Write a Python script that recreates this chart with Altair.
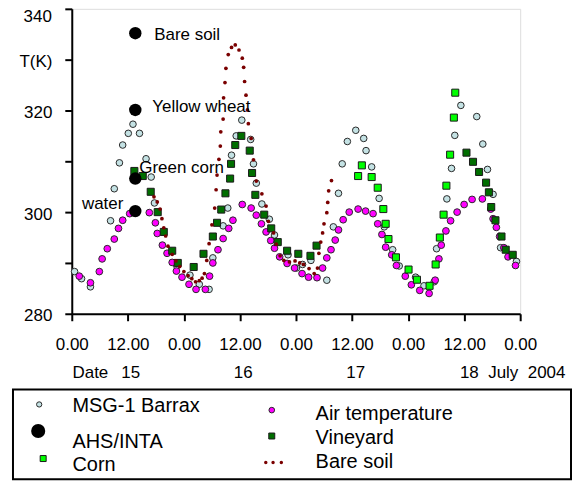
import altair as alt
import pandas as pd

# ---------------- data (hours since 15 July 00:00, temperature in K) ----------------
msg_hour = [0.6, 2.1, 4.0, 8.3, 9.1, 10.2, 10.9, 12.1, 13.1, 14.5, 15.9, 17.0, 17.7,
            22.5, 25.3, 27.3, 29.4, 30.2, 32.4, 33.4, 34.2, 35.2, 36.4, 38.3, 38.9,
            39.5, 40.7, 42.3, 43.4, 46.3, 48.1, 49.4, 51.2, 54.6, 56.0, 57.1, 57.9,
            59.0, 60.8, 62.5, 63.0, 64.2, 65.8, 66.9, 68.7, 70.1, 73.6, 75.4, 77.6,
            78.1, 80.3, 81.3, 82.0, 83.3, 86.7, 88.0, 89.0, 90.2, 91.8, 95.2]
msg_temp = [288.3, 286.9, 285.3, 298.3, 304.6, 309.7, 313.2, 315.5, 317.3, 315.5, 310.5, 306.9, 301.8,
            289.4, 287.6, 285.8, 284.8, 291.0, 297.3, 300.8, 311.2, 315.0, 318.1, 314.3, 309.5,
            305.7, 301.6, 298.6, 295.5, 291.6, 289.0, 289.7, 290.5, 286.6, 297.1, 303.7, 309.5,
            313.9, 316.1, 314.5, 312.1, 308.9, 302.7, 297.1, 292.6, 289.4, 287.2, 285.5, 286.3,
            292.8, 302.6, 308.6, 315.1, 321.0, 318.8, 313.4, 308.4, 303.5, 293.0, 290.3]

air_hour = [1.6, 4.0, 5.9, 6.5, 7.6, 9.1, 10.0, 10.9, 12.4, 13.8, 16.6, 17.9, 18.3, 19.4,
            20.4, 21.5, 22.4, 23.6, 25.1, 26.6, 28.6, 29.5, 30.2, 31.3, 32.4, 33.6, 34.5,
            36.5, 38.4, 39.5, 40.6, 41.6, 42.6, 43.4, 44.5, 46.1, 47.7, 49.3, 50.7, 52.5,
            53.7, 54.6, 55.5, 56.4, 57.1, 58.1, 59.4, 61.3, 62.9, 64.5, 65.5, 66.4, 67.2,
            68.5, 69.5, 71.4, 72.7, 74.5, 76.5, 77.8, 78.6, 79.1, 80.1, 81.1, 82.5, 84.0,
            85.7, 87.9, 89.7, 90.2, 90.9, 91.6, 92.5, 93.4, 95.0]
air_temp = [287.4, 286.1, 288.3, 290.8, 292.8, 294.7, 296.8, 298.4, 299.7, 300.0, 299.9, 297.9, 295.8, 293.5,
            291.9, 290.1, 288.4, 287.2, 285.8, 284.8, 284.8, 287.4, 290.0, 292.6, 294.8, 296.8, 298.4,
            301.5, 300.8, 299.4, 297.7, 296.1, 294.4, 292.9, 291.2, 289.9, 289.0, 287.9, 287.2, 287.1,
            289.0, 291.0, 292.6, 294.5, 296.5, 298.5, 300.0, 300.6, 300.2, 299.7, 297.7, 295.6, 293.1,
            291.6, 289.5, 287.4, 285.7, 284.6, 284.0, 286.6, 290.8, 293.5, 296.3, 298.3, 300.0, 301.5,
            302.5, 302.6, 300.6, 298.7, 297.0, 295.2, 293.0, 291.2, 289.5]

corn_hour = [61.3, 62.1, 64.2, 65.5, 66.7, 67.2, 67.8, 69.4, 72.1, 73.9, 76.6, 77.9, 78.8,
             79.6, 80.2, 81.0, 81.8, 82.1]
corn_temp = [307.1, 309.2, 306.9, 304.8, 300.6, 297.7, 294.7, 291.1, 288.7, 286.7, 285.5, 289.7, 295.0,
             299.5, 305.2, 311.3, 318.6, 323.5]

vine_hour = [13.4, 15.2, 16.9, 18.4, 19.7, 21.5, 22.7, 26.1, 28.2, 30.2, 31.1, 32.0, 32.9,
             33.9, 34.1, 35.0, 36.3, 38.1, 38.6, 39.3, 41.2, 42.7, 44.1, 46.1, 48.5, 51.1,
             52.4, 84.5, 85.9, 87.2, 88.7, 89.3, 89.8, 90.7, 92.0, 92.9, 94.4]
vine_temp = [308.1, 307.1, 304.0, 300.0, 296.1, 292.4, 290.0, 289.2, 291.8, 295.2, 297.9, 300.5, 303.7,
             306.6, 309.5, 313.2, 315.0, 312.1, 307.7, 303.4, 299.5, 296.8, 294.1, 292.4, 291.8, 291.4,
             293.4, 311.7, 309.9, 307.9, 305.8, 303.9, 301.0, 298.4, 295.2, 292.6, 291.6]

soil_hour = [17.6, 18.3, 18.9, 19.3, 19.7, 20.1, 20.6, 21.5, 22.3, 23.1, 24.0, 24.9, 25.7,
             26.5, 27.3, 27.9, 28.4, 28.9, 29.4, 30.0, 30.6, 30.9, 31.1, 31.5, 31.8, 31.9,
             32.4, 32.5, 32.8, 33.0, 33.5, 34.2, 35.0, 35.8, 36.5, 36.8, 37.0, 37.3, 37.6,
             37.8, 38.4, 38.9, 39.5, 40.7, 41.6, 42.1, 43.2, 43.8, 44.6, 45.4, 46.6, 47.8,
             48.8, 49.6, 50.8, 51.9, 52.6, 52.9, 53.3, 53.7, 54.0, 54.6, 54.8, 55.0, 55.6]
soil_temp = [303.0, 302.0, 300.6, 298.7, 296.9, 295.3, 293.3, 291.7, 290.4, 289.3, 288.3, 287.5, 286.9,
             286.3, 286.5, 287.0, 287.9, 290.5, 293.8, 297.5, 300.8, 304.4, 307.3, 310.4, 313.0, 315.8,
             318.3, 322.5, 325.5, 328.3, 331.0, 332.4, 332.9, 331.9, 330.3, 328.5, 325.7, 323.0, 320.1,
             317.4, 314.5, 310.3, 306.1, 303.6, 301.2, 298.2, 295.9, 293.7, 291.4, 290.5, 290.2, 290.4,
             290.0, 289.7, 288.9, 287.9, 289.0, 291.9, 294.1, 295.9, 297.7, 299.9, 301.9, 304.2, 306.2]

ahs_hour = [13.6, 13.6, 13.6, 13.6]
ahs_temp = [300.2, 306.6, 320.1, 335.2]
ahs_label = ["water", "Green corn", "Yellow wheat", "Bare soil"]

x_tick_values = [0, 12, 24, 36, 48, 60, 72, 84, 96]
x_tick_labels = ["0.00", "12.00", "0.00", "12.00", "0.00", "12.00", "0.00", "12.00", "0.00"]
y_tick_values = [280, 290, 300, 310, 320, 330, 340]
y_tick_labels = ["280", "", "300", "", "320", "T(K)", "340"]

date_center_text = ["15", "16", "17"]
date_center_hour = [12.6, 36.7, 60.8]
date_left_text = ["Date", "18\u00a0\u00a0July\u00a0\u00a02004"]
date_left_hour = [0.15, 83.1]

legend_entries = ["MSG-1 Barrax", "AHS/INTA", "Corn", "Air temperature", "Vineyard", "Bare soil"]

# ---------------- chart ----------------
FONT = "Liberation Sans"
W, H = 450, 306


def df(h, t):
    return pd.DataFrame({"hour": h, "temp": t})


x_expr = "[" + ",".join("'%s'" % s for s in x_tick_labels) + "][round(datum.value/12)]"
# the top label (340) is drawn separately so that it stays inside the page
y_expr = ("datum.value >= 340 ? '' : [" + ",".join("'%s'" % s for s in y_tick_labels)
          + "][round((datum.value-280)/10)]")

xenc = alt.X("hour:Q",
             scale=alt.Scale(domain=[0, 96], nice=False, zero=False),
             axis=alt.Axis(values=x_tick_values, labelExpr=x_expr, title=None, grid=False,
                           tickSize=7, tickWidth=2, tickColor="black",
                           domainColor="black", domainWidth=2,
                           labelFont=FONT, labelFontSize=17, labelColor="black",
                           labelBaseline="middle", labelPadding=24,
                           labelFlush=False, labelOverlap=False))
yenc = alt.Y("temp:Q",
             scale=alt.Scale(domain=[280, 340], nice=False, zero=False),
             axis=alt.Axis(values=y_tick_values, labelExpr=y_expr, title=None, grid=False,
                           tickSize=7, tickWidth=2, tickColor="black",
                           domainColor="black", domainWidth=2,
                           labelFont=FONT, labelFontSize=17, labelColor="black",
                           labelPadding=13, labelOffset=2,
                           labelFlush=False, labelOverlap=False))

msg = alt.Chart(df(msg_hour, msg_temp)).mark_circle(
    size=44, color="#c4e2e4", stroke="#2a2a2a", strokeWidth=1, opacity=1).encode(x=xenc, y=yenc)
air = alt.Chart(df(air_hour, air_temp)).mark_circle(
    size=46, color="#ff00ff", stroke="#2a2a2a", strokeWidth=1, opacity=1).encode(x="hour:Q", y="temp:Q")
corn = alt.Chart(df(corn_hour, corn_temp)).mark_square(
    size=50, color="#00ff00", stroke="#1a1a1a", strokeWidth=1, opacity=1).encode(x="hour:Q", y="temp:Q")
vine = alt.Chart(df(vine_hour, vine_temp)).mark_square(
    size=50, color="#006e00", stroke="#1a1a1a", strokeWidth=1, opacity=1).encode(x="hour:Q", y="temp:Q")
soil = alt.Chart(df(soil_hour, soil_temp)).mark_circle(
    size=14, color="#7a0000", opacity=1).encode(x="hour:Q", y="temp:Q")
ahs_df = pd.DataFrame({"hour": ahs_hour, "temp": ahs_temp, "label": ahs_label})
ahs = alt.Chart(ahs_df).mark_circle(size=155, color="black", opacity=1).encode(x="hour:Q", y="temp:Q")

# top y-axis label, placed through the y scale, hanging just below the page top
top_lab = alt.Chart(pd.DataFrame({"temp": [y_tick_values[-1]], "text": [y_tick_labels[-1]]})).mark_text(
    align="right", baseline="top", dy=0, font=FONT, fontSize=17, color="black"
).encode(x=alt.value(-20), y="temp:Q", text="text:N")

# annotation offsets (style, kept out of the data arrays)
ann_style = {
    "water": dict(align="right", dx=-12, dy=-7),
    "Green corn": dict(align="left", dx=4, dy=-11),
    "Yellow wheat": dict(align="left", dx=17, dy=-3),
    "Bare soil": dict(align="left", dx=19, dy=2),
}
ann_layers = []
for lab in ahs_label:
    st = ann_style[lab]
    ann_layers.append(
        alt.Chart(ahs_df).transform_filter(alt.datum.label == lab).mark_text(
            baseline="middle", font=FONT, fontSize=17, color="black", **st
        ).encode(x="hour:Q", y="temp:Q", text="label:N"))

# date line under the axis
date_c = alt.Chart(pd.DataFrame({"hour": date_center_hour, "text": date_center_text})).mark_text(
    align="center", baseline="middle", font=FONT, fontSize=17, color="black"
).encode(x="hour:Q", y=alt.value(365), text="text:N")
date_l = alt.Chart(pd.DataFrame({"hour": date_left_hour, "text": date_left_text})).mark_text(
    align="left", baseline="middle", font=FONT, fontSize=17, color="black"
).encode(x="hour:Q", y=alt.value(365), text="text:N")

# hand-made legend box
one = pd.DataFrame({"k": [0]})
leg_layers = [
    alt.Chart(one).mark_rect(fill="white", fillOpacity=0, stroke="black", strokeWidth=2).encode(
        x=alt.value(-59), x2=alt.value(501), y=alt.value(382), y2=alt.value(472)),
]
sym_style = [
    # (entry, mark kind, kwargs, x, y)
    ("MSG-1 Barrax", "circle", dict(size=28, color="#c4e2e4", stroke="#2a2a2a", strokeWidth=1), -32.7, 397),
    ("AHS/INTA", "circle", dict(size=200, color="black"), -33.7, 423.7),
    ("Corn", "square", dict(size=36, color="#00ff00", stroke="#1a1a1a", strokeWidth=1), -28.7, 451.3),
    ("Air temperature", "circle", dict(size=32, color="#ff00ff", stroke="#2a2a2a", strokeWidth=1), 200.7, 402.7),
    ("Vineyard", "square", dict(size=36, color="#006e00", stroke="#1a1a1a", strokeWidth=1), 200.7, 428.7),
]
for name, kind, kw, sx, sy in sym_style:
    base = alt.Chart(one)
    m = base.mark_circle(opacity=1, **kw) if kind == "circle" else base.mark_square(opacity=1, **kw)
    leg_layers.append(m.encode(x=alt.value(sx), y=alt.value(sy)))
for sx in [194.7, 202.0, 210.3]:
    leg_layers.append(alt.Chart(one).mark_circle(size=12, color="#7a0000", opacity=1).encode(
        x=alt.value(sx), y=alt.value(455.3)))

text_pos = {
    "MSG-1 Barrax": (0.7, 405),
    "AHS/INTA": (0.7, 441),
    "Corn": (0.7, 463.5),
    "Air temperature": (244.7, 412.7),
    "Vineyard": (244.7, 437),
    "Bare soil": (244.7, 461),
}
for name in legend_entries:
    tx, ty = text_pos[name]
    leg_layers.append(alt.Chart(one).mark_text(
        align="left", baseline="alphabetic", font=FONT, fontSize=20, color="black"
    ).encode(x=alt.value(tx), y=alt.value(ty), text=alt.value(name)))

chart = alt.layer(msg, air, corn, vine, soil, ahs, top_lab, *ann_layers, date_c, date_l,
                  *leg_layers).properties(
    width=W, height=H,
    autosize=alt.AutoSizeParams(type="none"),
    padding={"left": 64, "top": 0, "right": 53, "bottom": 169},
).configure_view(stroke="black", strokeWidth=1.5).configure(font=FONT)

chart.save("out.html", embed_options={"renderer": "svg", "actions": False})
